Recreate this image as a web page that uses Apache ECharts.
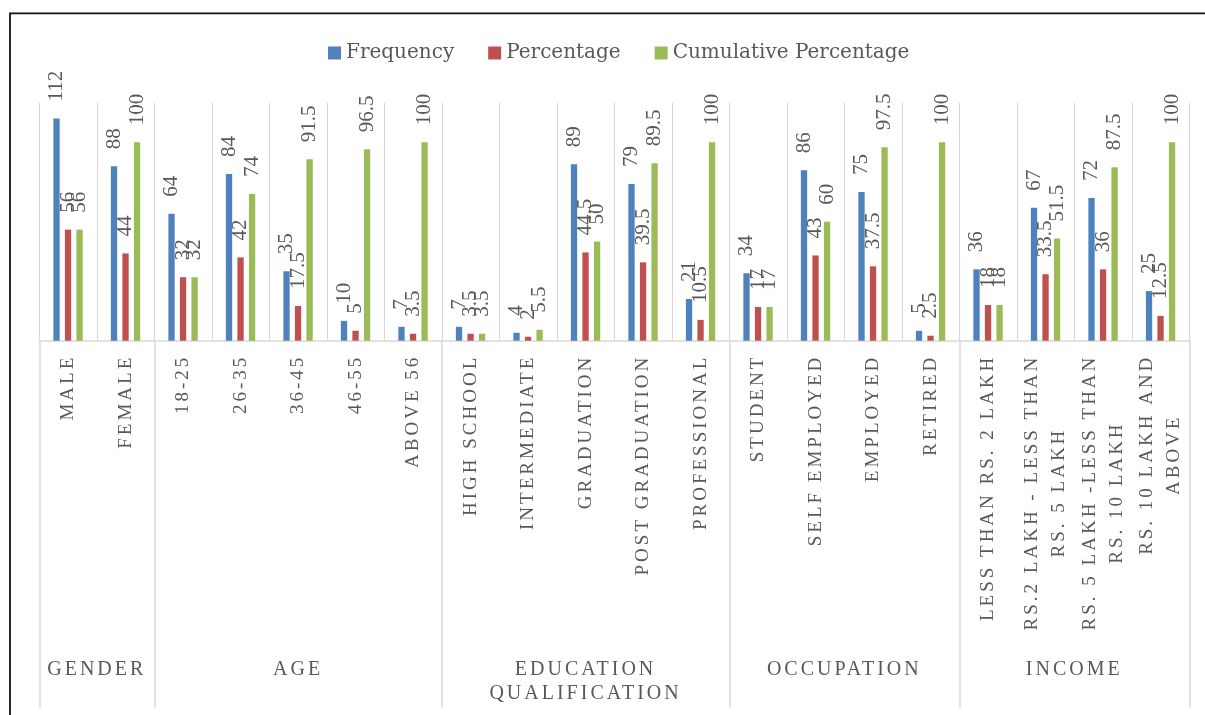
<!DOCTYPE html>
<html>
<head>
<meta charset="utf-8">
<title>Respondent profile</title>
<script src="https://cdn.jsdelivr.net/npm/echarts@6/dist/echarts.min.js"></script>
<style>
  html, body { margin: 0; padding: 0; background: #fff; }
  #chart { width: 1205px; height: 715px; }
</style>
</head>
<body>
<div id="chart"></div>
<script>
// Respondent profile: count, share and running share per category
const categories = [
  'MALE', 'FEMALE',
  '18-25', '26-35', '36-45', '46-55', 'ABOVE 56',
  'HIGH SCHOOL', 'INTERMEDIATE', 'GRADUATION', 'POST GRADUATION', 'PROFESSIONAL',
  'STUDENT', 'SELF EMPLOYED', 'EMPLOYED', 'RETIRED',
  'LESS THAN RS. 2 LAKH', 'RS.2 LAKH - LESS THAN\nRS. 5 LAKH',
  'RS. 5 LAKH -LESS THAN\nRS. 10 LAKH', 'RS. 10 LAKH AND\nABOVE'
];
const frequency = [112, 88, 64, 84, 35, 10, 7, 7, 4, 89, 79, 21, 34, 86, 75, 5, 36, 67, 72, 25];
const percentage = [56, 44, 32, 42, 17.5, 5, 3.5, 3.5, 2, 44.5, 39.5, 10.5, 17, 43, 37.5, 2.5, 18, 33.5, 36, 12.5];
const cumulative = [56, 100, 32, 74, 91.5, 96.5, 100, 3.5, 5.5, 50, 89.5, 100, 17, 60, 97.5, 100, 18, 51.5, 87.5, 100];
const groupNames = ['GENDER', 'AGE', 'EDUCATION\nQUALIFICATION', 'OCCUPATION', 'INCOME'];
const groupSizes = [2, 5, 5, 4, 4];

// Wide tracking for the axis captions: any canvas font whose family list
// starts with "Tracked" gets extra letter spacing (drawn and measured alike).
(function () {
  const proto = CanvasRenderingContext2D.prototype;
  if (!('letterSpacing' in proto)) return;
  const fill = proto.fillText, measure = proto.measureText;
  const track = ctx => { ctx.letterSpacing = ctx.font.indexOf('Tracked') >= 0 ? '3px' : '0px'; };
  proto.fillText = function (t, x, y, w) {
    track(this);
    return w === undefined ? fill.call(this, t, x, y) : fill.call(this, t, x, y, w);
  };
  proto.measureText = function (t) { track(this); return measure.call(this, t); };
})();

// Group edges and centres on a 0..N scale of category slots
const edges = [0];
const centres = [];
groupSizes.forEach(n => {
  const start = edges[edges.length - 1];
  centres.push(start + n / 2);
  edges.push(start + n);
});
const groupAt = v => {
  const i = centres.findIndex(c => Math.abs(c - v) < 1e-6);
  return i >= 0 ? groupNames[i] : '';
};

const TEXT = '#595959';
const GRID = '#d9d9d9';
const CAPTION_FONT = "Tracked, 'Liberation Serif', serif";
const VALUE_FONT = "'Liberation Serif', serif";

const chart = echarts.init(document.getElementById('chart'), null, { renderer: 'canvas' });

const valueLabel = {
  show: true,
  position: 'top',
  distance: 17,
  rotate: 90,
  align: 'left',
  verticalAlign: 'middle',
  color: TEXT,
  fontFamily: VALUE_FONT,
  fontSize: 21
};

const makeSeries = (name, data, color) => ({
  name,
  type: 'bar',
  xAxisIndex: 0,
  yAxisIndex: 0,
  data,
  barWidth: 6.3,
  barGap: '83%',
  itemStyle: { color },
  label: valueLabel,
  emphasis: { disabled: true }
});

chart.setOption({
  animation: false,
  backgroundColor: '#fff',
  legend: {
    left: 323,
    top: 38,
    icon: 'rect',
    itemWidth: 13,
    itemHeight: 13,
    itemGap: 34,
    textStyle: { color: TEXT, fontFamily: "'DejaVu Serif', serif", fontSize: 20 },
    data: ['Frequency', 'Percentage', 'Cumulative Percentage']
  },
  grid: {
    left: 39.3,
    right: 15.7,
    top: 102.7,
    bottom: 374.3,
    containLabel: false,
    outerBoundsMode: 'none'
  },
  xAxis: [
    {
      type: 'category',
      position: 'bottom',
      data: categories,
      boundaryGap: true,
      axisLine: { show: true, lineStyle: { color: GRID, width: 1.5 } },
      axisTick: { show: false },
      splitLine: { show: true, lineStyle: { color: GRID, width: 1.2 } },
      axisLabel: {
        interval: 0,
        rotate: 90,
        margin: 14,
        color: TEXT,
        fontFamily: CAPTION_FONT,
        fontSize: 19,
        lineHeight: 27,
        formatter: v => v.split('\n').map(l => '{c|' + l + '}').join('\n'),
        rich: {
          c: { align: 'center', color: TEXT, fontFamily: CAPTION_FONT, fontSize: 19, lineHeight: 27 }
        }
      }
    },
    {
      type: 'value',
      position: 'bottom',
      min: 0,
      max: edges[edges.length - 1],
      axisLine: { show: false },
      splitLine: { show: false },
      axisTick: {
        show: true,
        customValues: edges,
        length: 367,
        lineStyle: { color: GRID, width: 1.5 }
      },
      axisLabel: {
        customValues: centres,
        formatter: v => groupAt(v),
        margin: 317,
        color: TEXT,
        fontFamily: CAPTION_FONT,
        fontSize: 20,
        lineHeight: 24,
        align: 'center'
      }
    }
  ],
  yAxis: {
    type: 'value',
    min: 0,
    max: 120,
    show: false,
    splitLine: { show: false }
  },
  graphic: [
    {
      type: 'rect',
      silent: true,
      z: 100,
      shape: { x: 10, y: 13.3, width: 1400, height: 900 },
      style: { fill: null, stroke: '#111', lineWidth: 1.8 }
    }
  ],
  series: [
    makeSeries('Frequency', frequency, '#4F81BD'),
    makeSeries('Percentage', percentage, '#C0504D'),
    makeSeries('Cumulative Percentage', cumulative, '#9BBB59')
  ]
});
</script>
</body>
</html>
